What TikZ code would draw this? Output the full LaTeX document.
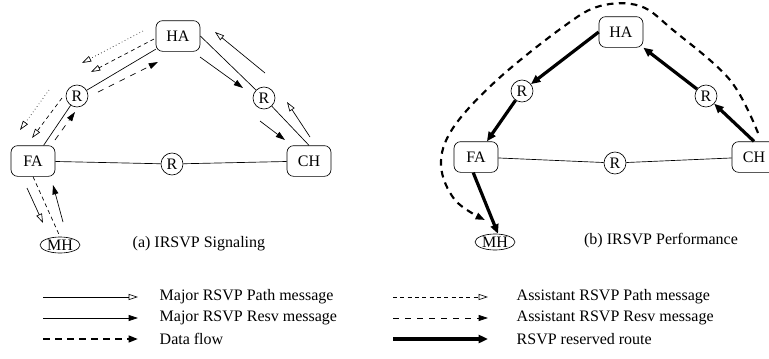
\documentclass[tikz,border=0pt]{standalone}
\usepackage{fontspec}
\setmainfont{Liberation Serif}
\usetikzlibrary{arrows.meta,shapes.geometric,calc}

\tikzset{
	agent/.style={draw, rounded corners=5pt, minimum width=33pt, minimum height=23pt, inner sep=0pt, line width=0.5pt},
	router/.style={draw, circle, minimum size=16.5pt, inner sep=0pt, line width=0.5pt},
	mobile/.style={draw, ellipse, minimum width=30pt, minimum height=12pt, inner sep=0pt, line width=0.5pt},
	link/.style={line width=0.5pt},
	majpath/.style={line width=0.5pt, -{Triangle[open,length=7pt,width=4.5pt]}},
	majresv/.style={line width=0.5pt, -{Triangle[length=7pt,width=4.5pt]}},
	asspath/.style={majpath, dash pattern=on 3pt off 2.5pt},
	assresv/.style={majresv, dash pattern=on 4.5pt off 4.5pt},
	dotpath/.style={majpath, dotted},
	dataflow/.style={line width=1.6pt, dash pattern=on 5pt off 4pt, -{Triangle[length=7pt,width=5pt]}},
	reserved/.style={line width=2.4pt, -{Triangle[length=7pt,width=6pt]}},
}

\begin{document}
\begin{tikzpicture}[x=0.75pt, y=-0.75pt, font=\fontsize{12}{14}\selectfont]
	\useasboundingbox (0,0) rectangle (769,358);

	% (a) IRSVP Signaling
	\node[agent] (ha) at (178,36) {HA};
	\node[agent] (fa) at (33,161) {FA};
	\node[agent] (ch) at (309,161) {CH};
	\node[router] (rl) at (77,96) {R};
	\node[router] (rr) at (264,98) {R};
	\node[router] (rm) at (172,164) {R};
	\node[mobile] (mh) at (60,245) {MH};
	\node[anchor=west] (capa) at (128,244) {(a) IRSVP Signaling};

	\draw[link] (fa) -- (rl) -- (ha);
	\draw[link] (ha.east) -- (rr.north west);
	\draw[link] (rr) -- (ch.north);
	\draw[link] (fa) -- (rm) -- (ch);
	\draw[link, dash pattern=on 3pt off 2.5pt] (fa.south) -- (mh.north);

	% messages along the links
	\foreach \xa/\ya/\xb/\yb in {265/73/215/32, 310/137/287/102, 27/188/43/223}
		\draw[majpath] (\xa,\ya) -- (\xb,\yb);
	\foreach \xa/\ya/\xb/\yb in {200/57/243/88, 260/121/285/140, 63/222/53/185}
		\draw[majresv] (\xa,\ya) -- (\xb,\yb);
	\foreach \xa/\ya/\xb/\yb in {154/39/91/72, 62/98/32/138}
		\draw[asspath] (\xa,\ya) -- (\xb,\yb);
	\foreach \xa/\ya/\xb/\yb in {98/92/158/62, 55/140/75/112}
		\draw[assresv] (\xa,\ya) -- (\xb,\yb);
	\foreach \xa/\ya/\xb/\yb in {143/31/82/63, 49/90/20/130}
		\draw[dotpath] (\xa,\ya) -- (\xb,\yb);

	% (b) IRSVP Performance
	\node[agent] (hab) at (621,32) {HA};
	\node[agent] (fab) at (476,157) {FA};
	\node[agent] (chb) at (754,157) {CH};
	\node[router] (rlb) at (522,91) {R};
	\node[router] (rrb) at (706,96) {R};
	\node[router] (rmb) at (615,163) {R};
	\node[mobile] (mhb) at (495,242) {MH};
	\node (capb) at (661,241) {(b) IRSVP Performance};

	\draw[link] (fab) -- (rmb) -- (chb);
	\draw[reserved] (hab.west) -- (rlb);
	\draw[reserved] (rlb) -- (fab);
	\draw[reserved] (fab.260) -- (mhb.70);
	\draw[reserved] (chb.north) -- (rrb);
	\draw[reserved] (rrb) -- (hab.south east);
	\draw[dataflow] plot[smooth, tension=0.6] coordinates {(758,133) (730,80) (673,30) (640,6) (600,6) (563,27) (497,80) (453,128) (441,165) (455,200) (485,220)};

	% Legend
	\foreach \y/\s/\t in {297/majpath/Major RSVP Path message, 318/majresv/Major RSVP Resv message, 339/dataflow/Data flow}{
		\draw[\s] (43,\y) -- (138,\y);
		\node[anchor=west] at (155,\y) {\t};
	}
	\foreach \y/\s/\t in {297/asspath/Assistant RSVP Path message, 318/assresv/Assistant RSVP Resv message, 339/reserved/RSVP reserved route}{
		\draw[\s] (393,\y) -- (488,\y);
		\node[anchor=west] at (512,\y) {\t};
	}
\end{tikzpicture}
\end{document}
